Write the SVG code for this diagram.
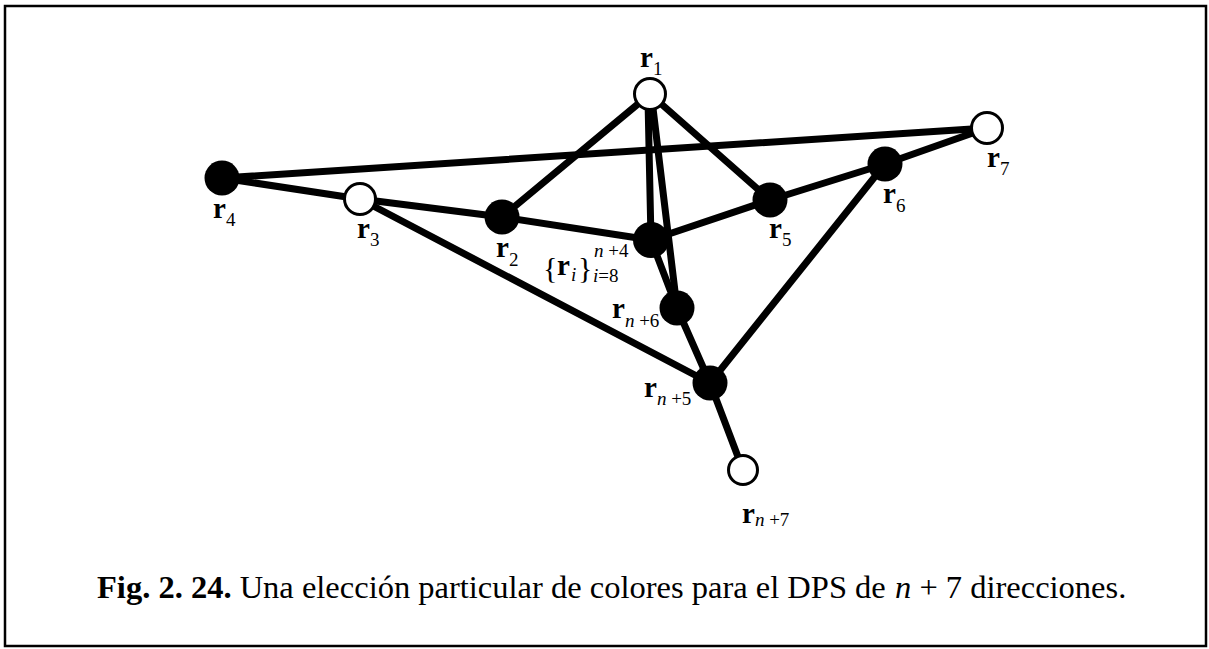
<svg xmlns="http://www.w3.org/2000/svg" width="1209" height="649" viewBox="0 0 1209 649">
<style>
.e{stroke:#000;stroke-width:7;stroke-linecap:round;fill:none}
.f{fill:#000}
.o{fill:#fff;stroke:#000;stroke-width:3}
.t{font-family:"Liberation Serif","Times New Roman",serif;fill:#000}
.r{font-weight:bold;font-size:29px}
.s{font-size:19px}
.i{font-style:italic}
.cap{font-size:32.5px}
</style>
<rect width="1209" height="649" fill="#fff"/>
<rect x="5" y="6" width="1201" height="640" fill="none" stroke="#000" stroke-width="2.5"/>
<g id="connectors">
<line class="e" x1="222" y1="178" x2="987" y2="128"/>
<line class="e" x1="222" y1="178" x2="360" y2="199"/>
<line class="e" x1="360" y1="199" x2="502" y2="217"/>
<line class="e" x1="360" y1="199" x2="710" y2="383"/>
<line class="e" x1="502" y1="217" x2="650" y2="94"/>
<line class="e" x1="502" y1="217" x2="651" y2="240"/>
<line class="e" x1="651" y1="240" x2="770" y2="200"/>
<line class="e" x1="650" y1="94" x2="770" y2="200"/>
<line class="e" x1="648" y1="100" x2="651" y2="240"/>
<line class="e" x1="652" y1="100" x2="677" y2="308"/>
<line class="e" x1="651" y1="240" x2="677" y2="308"/>
<line class="e" x1="677" y1="308" x2="710" y2="383"/>
<line class="e" x1="710" y1="383" x2="743" y2="470"/>
<line class="e" x1="710" y1="383" x2="885" y2="164"/>
<line class="e" x1="770" y1="200" x2="885" y2="164"/>
<line class="e" x1="885" y1="164" x2="987" y2="128"/>
</g>
<g id="r1"><circle class="o" cx="650" cy="94" r="15.5"/><text class="t" x="640" y="67"><tspan class="r">r</tspan><tspan class="s" dy="8">1</tspan></text></g>
<g id="r7"><circle class="o" cx="987" cy="128" r="15.5"/><text class="t" x="987" y="167"><tspan class="r">r</tspan><tspan class="s" dy="8">7</tspan></text></g>
<g id="r4"><circle class="f" cx="222" cy="178" r="17.5"/><text class="t" x="213" y="218"><tspan class="r">r</tspan><tspan class="s" dy="8">4</tspan></text></g>
<g id="r3"><circle class="o" cx="360" cy="199" r="15.5"/><text class="t" x="357" y="238"><tspan class="r">r</tspan><tspan class="s" dy="8">3</tspan></text></g>
<g id="r2"><circle class="f" cx="502" cy="217" r="17.5"/><text class="t" x="496" y="257"><tspan class="r">r</tspan><tspan class="s" dy="9">2</tspan></text></g>
<g id="ri"><circle class="f" cx="651" cy="240" r="18"/>
<text class="t" x="543" y="278" style="font-size:30px">{</text>
<text class="t r" x="557" y="275">r</text>
<text class="t s i" x="571" y="281">i</text>
<text class="t" x="578" y="278" style="font-size:30px">}</text>
<text class="t s" x="594" y="257"><tspan class="i">n</tspan> +4</text>
<text class="t s" x="593" y="282"><tspan class="i">i</tspan>=8</text>
</g>
<g id="r5"><circle class="f" cx="770" cy="200" r="17.5"/><text class="t" x="769" y="238"><tspan class="r">r</tspan><tspan class="s" dy="8">5</tspan></text></g>
<g id="r6"><circle class="f" cx="885" cy="164" r="17.5"/><text class="t" x="883" y="203"><tspan class="r">r</tspan><tspan class="s" dy="9">6</tspan></text></g>
<g id="rn6"><circle class="f" cx="677" cy="308" r="17.5"/><text class="t" x="612" y="318"><tspan class="r">r</tspan><tspan class="s" dy="9"><tspan class="i">n</tspan> +6</tspan></text></g>
<g id="rn5"><circle class="f" cx="710" cy="383" r="17.5"/><text class="t" x="644" y="397"><tspan class="r">r</tspan><tspan class="s" dy="8"><tspan class="i">n</tspan> +5</tspan></text></g>
<g id="rn7"><circle class="o" cx="743" cy="470" r="14.5"/><text class="t" x="742" y="523"><tspan class="r">r</tspan><tspan class="s" dy="3"><tspan class="i">n</tspan> +7</tspan></text></g>
<g id="caption">
<text class="t cap" x="97" y="598"><tspan font-weight="bold">Fig. 2. 24.</tspan> Una elección particular de colores para el DPS de</text>
<text class="t cap" x="895" y="598"><tspan class="i">n</tspan> + 7 direcciones.</text>
</g>
</svg>
